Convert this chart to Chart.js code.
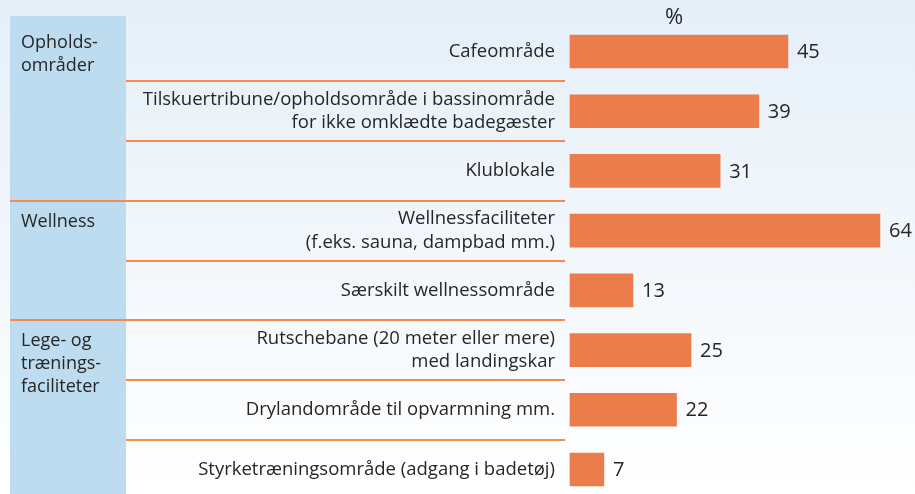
<!DOCTYPE html>
<html>
<head>
<meta charset="utf-8">
<script src="https://cdn.jsdelivr.net/npm/chart.js"></script>
<style>
  html, body { margin: 0; padding: 0; }
  #wrap { width: 915px; height: 494px; }
</style>
</head>
<body>
<div id="wrap"><canvas id="chart" width="915" height="494"></canvas></div>
<script>
// facilities, share in %
const categories = [
    "Cafeområde",
    ["Tilskuertribune/opholdsområde i bassinområde", "for ikke omklædte badegæster"],
    "Klublokale",
    ["Wellnessfaciliteter", "(f.eks. sauna, dampbad mm.)"],
    "Særskilt wellnessområde",
    ["Rutschebane (20 meter eller mere)", "med landingskar"],
    "Drylandområde til opvarmning mm.",
    "Styrketræningsområde (adgang i badetøj)"
];
const values = [45, 39, 31, 64, 13, 25, 22, 7];

// groups: label lines, first and last category index
const groupLabels = [["Opholds-", "områder"], ["Wellness"], ["Lege- og", "trænings-", "faciliteter"]];
const groupStart = [0, 3, 5];
const groupEnd = [2, 4, 7];

const unitLabel = "%";

const FONT = "'Open Sans', sans-serif";
const TEXT = "#262626";
const ORANGE = "#ea7d4b";
const LINE = "#f5894f";

const decor = {
    id: "decor",
    beforeDraw(chart) {
        const ctx = chart.ctx;
        const y = chart.scales.y;
        ctx.save();
        let grad = ctx.createLinearGradient(0, 0, 0, chart.height);
        grad.addColorStop(0, "#e5eff8");
        grad.addColorStop(1, "#ffffff");
        ctx.fillStyle = grad;
        ctx.fillRect(0, 0, chart.width, chart.height);

        // group column
        ctx.fillStyle = "#bddcf0";
        ctx.fillRect(10, 16, 116, chart.height - 16);

        // separators between rows
        const step = y.getPixelForValue(1) - y.getPixelForValue(0);
        ctx.strokeStyle = LINE;
        ctx.lineWidth = 2;
        for (let i = 0; i < categories.length - 1; i++) {
            const py = Math.round(y.getPixelForValue(i) + step / 2);
            const startX = groupEnd.includes(i) ? 10 : 126;
            ctx.beginPath();
            ctx.moveTo(startX, py);
            ctx.lineTo(565, py);
            ctx.stroke();
        }

        // group labels
        ctx.fillStyle = TEXT;
        ctx.font = "18px " + FONT;
        ctx.textAlign = "left";
        ctx.textBaseline = "middle";
        groupLabels.forEach((lines, g) => {
            const top = y.getPixelForValue(groupStart[g]) - step / 2;
            lines.forEach((t, k) => {
                ctx.fillText(t, 21, top + 21 + k * 23);
            });
        });
        ctx.restore();
    },
    afterDatasetsDraw(chart) {
        const ctx = chart.ctx;
        const meta = chart.getDatasetMeta(0);
        ctx.save();
        ctx.fillStyle = TEXT;
        ctx.font = "20px " + FONT;
        ctx.textAlign = "left";
        ctx.textBaseline = "middle";
        meta.data.forEach((bar, i) => {
            ctx.fillText(values[i], bar.x + 9, bar.y + 1);
        });
        // unit label above bars
        ctx.font = "22px " + FONT;
        ctx.textAlign = "center";
        ctx.fillText(unitLabel, chart.scales.x.getPixelForValue(21.5), 18);
        ctx.restore();
    }
};

new Chart(document.getElementById("chart"), {
    type: "bar",
    data: {
        labels: categories,
        datasets: [{
            data: values,
            backgroundColor: ORANGE,
            barThickness: 33,
            clip: false
        }]
    },
    options: {
        indexAxis: "y",
        responsive: false,
        animation: false,
        layout: { padding: { top: 51.5, bottom: 24.5, right: 6, left: 0 } },
        plugins: {
            legend: { display: false },
            tooltip: { enabled: false }
        },
        scales: {
            x: {
                display: false,
                min: 0,
                max: 70
            },
            y: {
                offset: false,
                grid: { display: false },
                border: { display: false },
                afterFit(scale) { scale.width = 570; },
                ticks: {
                    autoSkip: false,
                    padding: 7,
                    color: TEXT,
                    font: { family: FONT, size: 18.5, lineHeight: 1.27 }
                }
            }
        }
    },
    plugins: [decor]
});
</script>
</body>
</html>
